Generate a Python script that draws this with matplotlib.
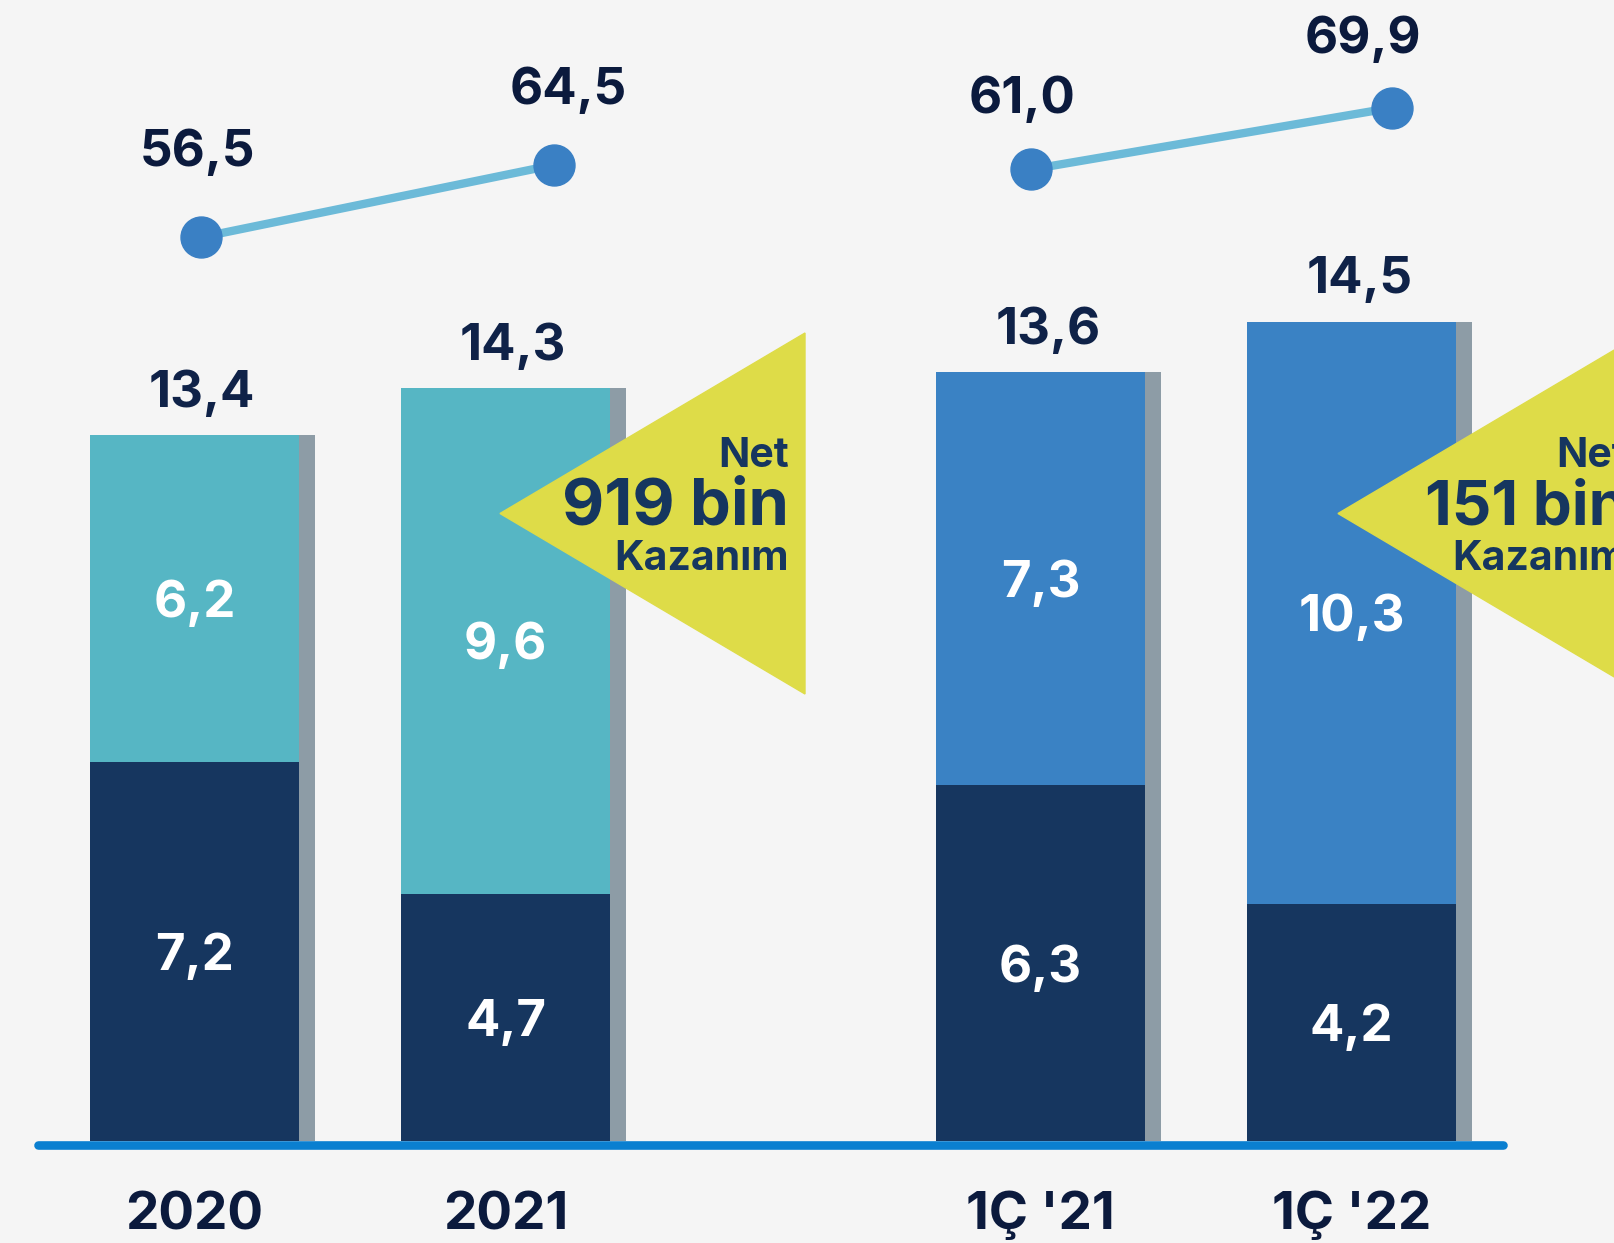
import matplotlib
matplotlib.use("Agg")
import matplotlib.pyplot as plt
from matplotlib.patches import Polygon

plt.rcParams['font.family'] = ['Inter', 'DejaVu Sans']

# data
categories = ["2020", "2021", "1Ç '21", "1Ç '22"]
bottomValues = [7.2, 4.7, 6.3, 4.2]
topValues = [6.2, 9.6, 7.3, 10.3]
totalValues = [13.4, 14.3, 13.6, 14.5]
lineValues = [56.5, 64.5, 61.0, 69.9]
netLabels = ["919 bin", "151 bin"]

# layout / style
xPos = [0, 1, 2.72, 3.72]
lineX = [0.021, 1.155, 2.691, 3.851]
lineLabelOffset = [(-4, 90), (15, 80), (-9, 75), (-29, 73)]  # px, label centre above point
barWidth = 0.675
shadowWidth = 0.05
navy = "#16365f"
teal = "#56b6c4"
blue = "#3a82c4"
shadow = "#8d9ca6"
yellow = "#dedc48"
textDark = "#0f2248"
W, H = 1614, 1243
PT = 0.72  # points per pixel at dpi 100
numSize = 51  # em in px for value labels
halfCap = numSize * 0.727 / 2

fig = plt.figure(figsize=(W / 100, H / 100), dpi=100)
fig.patch.set_facecolor("#f5f5f5")


def make_axes(ylim):
    ax = fig.add_axes([0, 0, 1, 1])
    ax.set_xlim(-0.6254, 4.564)
    ax.set_ylim(*ylim)
    ax.axis("off")
    ax.patch.set_alpha(0)
    return ax


def fmt(v):
    return f"{v:.1f}".replace(".", ",")


def value_label(ax, x, y, v, color, dx=0, dy=0):
    # dx, dy in pixels; text centred on its digits
    ax.annotate(fmt(v), (x, y), xytext=(dx * PT, (dy - halfCap) * PT),
                textcoords="offset points", color=color, fontsize=numSize * PT,
                fontweight="bold", ha="center", va="baseline", zorder=5)


barAxes = [make_axes((-1.937, 21.67)), make_axes((-1.805, 20.19))]
lineAxes = [make_axes((-54.75, 82.75)), make_axes((-94.16, 85.47))]
topColors = [teal, blue]

for g in range(2):
    ax = barAxes[g]
    idx = [2 * g, 2 * g + 1]
    xs = [xPos[i] for i in idx]
    bot = [bottomValues[i] for i in idx]
    top = [topValues[i] for i in idx]
    tot = [totalValues[i] for i in idx]
    # grey side strip
    ax.bar([x + barWidth / 2 + shadowWidth / 2 for x in xs], tot, width=shadowWidth,
           color=shadow, zorder=1)
    ax.bar(xs, bot, width=barWidth, color=navy, zorder=2)
    ax.bar(xs, top, bottom=bot, width=barWidth, color=topColors[g], zorder=2)
    for x, b, t, s in zip(xs, bot, top, tot):
        value_label(ax, x, b / 2, b, "white")
        value_label(ax, x, b + t / 2, t, "white")
        value_label(ax, x + shadowWidth / 2, s, s, textDark, dy=47)

    lax = lineAxes[g]
    lx = [lineX[i] for i in idx]
    ly = [lineValues[i] for i in idx]
    lax.plot(lx, ly, color="#6cbad8", lw=6, zorder=3)
    lax.plot(lx, ly, "o", color="#3a80c4", ms=29.5, zorder=4)
    for i, x, y in zip(idx, lx, ly):
        dx, dy = lineLabelOffset[i]
        value_label(lax, x, y, y, "#0b1a3d", dx=dx, dy=dy)

# pixel overlay for baseline, callouts and category labels
deco = fig.add_axes([0, 0, 1, 1])
deco.set_xlim(0, W)
deco.set_ylim(H, 0)
deco.axis("off")
deco.patch.set_alpha(0)

deco.plot([38, 1503], [1144.6, 1144.6], color="#0a7fd0", lw=6.2,
          solid_capstyle="round", zorder=2)

tipX = [500, 1338]
netSizes = [65, 62]
for tx, label, ns in zip(tipX, netLabels, netSizes):
    deco.add_patch(Polygon([[tx, 513.5], [tx + 305, 333], [tx + 305, 694]],
                           closed=True, color=yellow, zorder=3))
    rx = tx + 289
    deco.text(rx, 466.7, "Net", fontsize=41 * PT, fontweight="bold", color=navy,
              ha="right", va="baseline", zorder=4)
    deco.text(rx, 524, label, fontsize=ns * PT, fontweight="bold", color=navy,
              ha="right", va="baseline", zorder=4)
    deco.text(rx, 570, "Kazanım", fontsize=41 * PT, fontweight="bold", color=navy,
              ha="right", va="baseline", zorder=4)

for x, cat in zip(xPos, categories):
    px = 194.5 + 311 * x
    deco.text(px, 1229, cat, fontsize=53 * PT, fontweight="bold", color="#0b1a3d",
              ha="center", va="baseline")

fig.savefig("out.png", dpi=100, facecolor=fig.get_facecolor())
